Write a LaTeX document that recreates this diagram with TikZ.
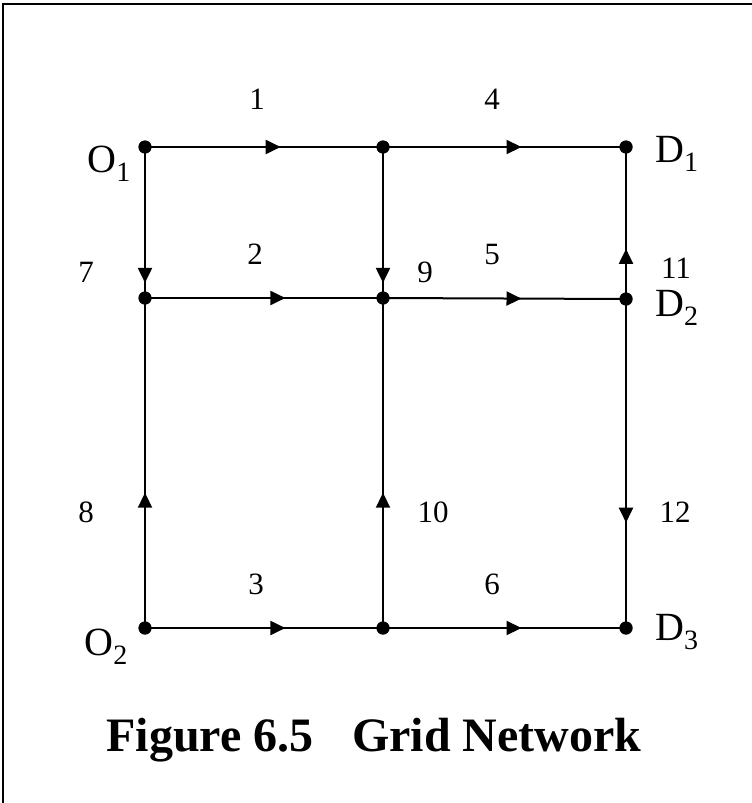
\documentclass[tikz,border=0pt]{standalone}
\usepackage{fontspec}
\setmainfont{Liberation Serif}
\usetikzlibrary{arrows.meta,decorations.markings}
\tikzset{
  dot/.style={circle,fill=black,inner sep=0pt,minimum size=13pt},
  edge/.style={line width=2pt},
  midarr/.style={postaction={decorate},decoration={markings,
     mark=at position #1 with {\arrow{Triangle[length=15pt,width=14pt]}}}},
  elab/.style={font=\fontsize{31}{33}\selectfont,inner sep=0pt},
  nlabl/.style={font=\fontsize{40}{44}\selectfont,inner sep=0pt,anchor=base west},
  nlabr/.style={font=\fontsize{40}{44}\selectfont,inner sep=0pt,anchor=base east},
  title/.style={font=\fontsize{48}{52}\selectfont\bfseries,inner sep=0pt,anchor=base}
}
\begin{document}
\begin{tikzpicture}[x=1pt,y=-1pt]
\useasboundingbox (0,0) rectangle (752,803);
% frame
\coordinate (fl) at (3,803);
\coordinate (fc) at (3,4);
\coordinate (fr) at (752,4);
\draw[line width=2pt] (fl) -- (fc) -- (fr);
% nodes
\node[dot] (a1) at (145,147) {};
\node[dot] (a2) at (383,147) {};
\node[dot] (a3) at (626,147) {};
\node[dot] (b1) at (145,298) {};
\node[dot] (b2) at (383,298) {};
\node[dot] (b3) at (626,299) {};
\node[dot] (c1) at (145,628) {};
\node[dot] (c2) at (383,628) {};
\node[dot] (c3) at (626,628) {};
% edges
\draw[edge,midarr=0.57] (a1.center) -- (a2.center);
\draw[edge,midarr=0.57] (a2.center) -- (a3.center);
\draw[edge,midarr=0.59] (b1.center) -- (b2.center);
\draw[edge,midarr=0.57] (b2.center) -- (b3.center);
\draw[edge,midarr=0.59] (c1.center) -- (c2.center);
\draw[edge,midarr=0.57] (c2.center) -- (c3.center);
\draw[edge,midarr=0.9] (a1.center) -- (b1.center);
\draw[edge,midarr=0.9] (a2.center) -- (b2.center);
\draw[edge,midarr=0.33] (b3.center) -- (a3.center);
\draw[edge,midarr=0.41] (c1.center) -- (b1.center);
\draw[edge,midarr=0.41] (c2.center) -- (b2.center);
\draw[edge,midarr=0.68] (b3.center) -- (c3.center);
% redraw dots on top
\foreach \n in {a1,a2,a3,b1,b2,b3,c1,c2,c3} {\fill (\n) circle (6.5pt);}
% edge labels
\node[elab] (l1) at (257,99) {1};
\node[elab] (l4) at (492,99) {4};
\node[elab] (l7) at (86,272) {7};
\node[elab] (l9) at (425,272) {9};
\node[elab] (l11) at (676,268) {11};
\node[elab] (l2) at (255,254) {2};
\node[elab] (l5) at (492,254) {5};
\node[elab] (l8) at (86,512) {8};
\node[elab] (l10) at (433,512) {10};
\node[elab] (l12) at (675,512) {12};
\node[elab] (l3) at (256,584) {3};
\node[elab] (l6) at (492,584) {6};
% node labels
\node[nlabr] (o1) at (131,172) {O\textsubscript{1}};
\node[nlabr] (o2) at (128,655) {O\textsubscript{2}};
\node[nlabl] (d1) at (655,162) {D\textsubscript{1}};
\node[nlabl] (d2) at (655,316) {D\textsubscript{2}};
\node[nlabl] (d3) at (655,640) {D\textsubscript{3}};
% title
\node[title] (t) at (374,751) {Figure 6.5\hspace{0.8em}Grid Network};
\end{tikzpicture}
\end{document}
